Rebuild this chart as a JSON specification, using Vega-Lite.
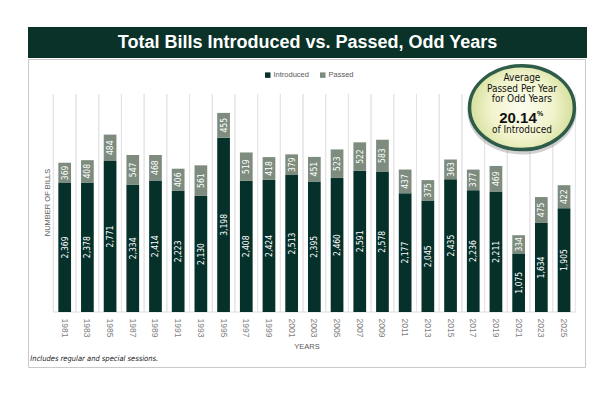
{
  "$schema": "https://vega.github.io/schema/vega-lite/v6.json",
  "padding": {"left": 27, "top": 27, "right": 0, "bottom": 0},
  "background": "white",
  "spacing": 0,
  "config": {"view": {"stroke": null}, "font": "Liberation Sans"},
  "datasets": {
    "bills": [
      {"year": "1981", "series": "Introduced", "value": 2369}, {"year": "1981", "series": "Passed", "value": 369},
      {"year": "1983", "series": "Introduced", "value": 2378}, {"year": "1983", "series": "Passed", "value": 408},
      {"year": "1985", "series": "Introduced", "value": 2771}, {"year": "1985", "series": "Passed", "value": 484},
      {"year": "1987", "series": "Introduced", "value": 2334}, {"year": "1987", "series": "Passed", "value": 547},
      {"year": "1989", "series": "Introduced", "value": 2414}, {"year": "1989", "series": "Passed", "value": 468},
      {"year": "1991", "series": "Introduced", "value": 2223}, {"year": "1991", "series": "Passed", "value": 406},
      {"year": "1993", "series": "Introduced", "value": 2130}, {"year": "1993", "series": "Passed", "value": 561},
      {"year": "1995", "series": "Introduced", "value": 3198}, {"year": "1995", "series": "Passed", "value": 455},
      {"year": "1997", "series": "Introduced", "value": 2408}, {"year": "1997", "series": "Passed", "value": 519},
      {"year": "1999", "series": "Introduced", "value": 2424}, {"year": "1999", "series": "Passed", "value": 418},
      {"year": "2001", "series": "Introduced", "value": 2513}, {"year": "2001", "series": "Passed", "value": 379},
      {"year": "2003", "series": "Introduced", "value": 2395}, {"year": "2003", "series": "Passed", "value": 451},
      {"year": "2005", "series": "Introduced", "value": 2460}, {"year": "2005", "series": "Passed", "value": 523},
      {"year": "2007", "series": "Introduced", "value": 2591}, {"year": "2007", "series": "Passed", "value": 522},
      {"year": "2009", "series": "Introduced", "value": 2578}, {"year": "2009", "series": "Passed", "value": 583},
      {"year": "2011", "series": "Introduced", "value": 2177}, {"year": "2011", "series": "Passed", "value": 437},
      {"year": "2013", "series": "Introduced", "value": 2045}, {"year": "2013", "series": "Passed", "value": 375},
      {"year": "2015", "series": "Introduced", "value": 2435}, {"year": "2015", "series": "Passed", "value": 363},
      {"year": "2017", "series": "Introduced", "value": 2236}, {"year": "2017", "series": "Passed", "value": 377},
      {"year": "2019", "series": "Introduced", "value": 2211}, {"year": "2019", "series": "Passed", "value": 469},
      {"year": "2021", "series": "Introduced", "value": 1075}, {"year": "2021", "series": "Passed", "value": 334},
      {"year": "2023", "series": "Introduced", "value": 1634}, {"year": "2023", "series": "Passed", "value": 475},
      {"year": "2025", "series": "Introduced", "value": 1905}, {"year": "2025", "series": "Passed", "value": 422}
    ]
  },
  "vconcat": [
    {
      "width": 559,
      "height": 31,
      "view": {"fill": "#0a3229", "stroke": null},
      "data": {"values": [{"t": "Total Bills Introduced vs. Passed, Odd Years"}]},
      "mark": {"type": "text", "color": "white", "fontSize": 18, "fontWeight": "bold", "font": "Liberation Sans", "baseline": "middle", "align": "center"},
      "encoding": {"text": {"field": "t", "type": "nominal"}}
    },
    {
      "width": 557,
      "height": 308,
      "view": {"stroke": "#c9c9c9", "fill": "white"},
      "data": {"name": "bills"},
      "layer": [
        {
          "mark": {"type": "rule", "color": "#e4e4e4", "strokeWidth": 1},
          "encoding": {
            "x": {"field": "year", "type": "nominal", "bandPosition": -0.3929, "title": "YEARS"},
            "y": {"datum": 0, "type": "quantitative"},
            "y2": {"datum": 4000}
          }
        },
        {
          "data": {"values": [{"k": 1}]},
          "mark": {"type": "rule", "color": "#e4e4e4", "strokeWidth": 1},
          "encoding": {
            "x": {"datum": "2025", "type": "nominal", "bandPosition": 1.3929},
            "y": {"datum": 0, "type": "quantitative"},
            "y2": {"datum": 4000}
          }
        },
        {
          "data": {"values": [{"k": 1}]},
          "mark": {"type": "rule", "color": "#dcdcdc", "strokeWidth": 1},
          "encoding": {
            "x": {"datum": "1981", "type": "nominal", "bandPosition": -0.3929},
            "x2": {"datum": "2025", "bandPosition": 1.3929},
            "y": {"datum": 0, "type": "quantitative"}
          }
        },
        {
          "mark": {"type": "bar"},
          "encoding": {
            "x": {
              "field": "year", "type": "nominal", "title": "YEARS",
              "scale": {"type": "band", "paddingInner": 0.44, "paddingOuter": 0.99, "align": 0.675},
              "axis": {"orient": "bottom", "offset": -54, "zindex": 1, "labelAngle": 90, "labelAlign": "left", "labelBaseline": "middle", "labelFontSize": 8.5, "labelColor": "#808080", "labelPadding": 5, "ticks": false, "domain": false, "grid": false, "titleFontSize": 7.5, "titleFontWeight": "normal", "titleColor": "#595959", "titlePadding": 6}
            },
            "y": {
              "field": "value", "type": "quantitative", "stack": "zero", "title": "NUMBER OF BILLS",
              "scale": {"domain": [-1009, 4642], "nice": false, "zero": false},
              "axis": {"offset": -26, "labels": false, "ticks": false, "domain": false, "grid": false, "titleFontSize": 7.5, "titleFontWeight": "normal", "titleColor": "#595959", "titlePadding": 3, "titleY": 143}
            },
            "color": {
              "field": "series", "type": "nominal",
              "scale": {"domain": ["Introduced", "Passed"], "range": ["#06302a", "#7d8c7e"]},
              "legend": {"orient": "none", "legendX": 236, "legendY": 44, "direction": "horizontal", "title": null, "symbolType": "square", "symbolSize": 30, "labelFontSize": 7.5, "labelColor": "#595959", "columnPadding": 10, "symbolStrokeWidth": 0, "labelOffset": 2}
            },
            "order": {"field": "series"}
          }
        },
        {
          "mark": {"type": "text", "angle": 270, "color": "white", "fontSize": 8.5, "font": "Liberation Sans Narrow, DejaVu Sans Condensed, sans-serif", "baseline": "middle", "align": "center"},
          "encoding": {
            "x": {"field": "year", "type": "nominal", "title": "YEARS"},
            "y": {"field": "value", "type": "quantitative", "stack": "zero", "bandPosition": 0.5, "title": "NUMBER OF BILLS"},
            "detail": {"field": "series"},
            "order": {"field": "series"},
            "text": {"field": "value", "type": "quantitative", "format": ","}
          }
        },
        {
          "data": {"values": [{"k": 1}]},
          "mark": {"type": "point", "shape": "M-1,0A1,0.8,0,1,1,1,0A1,0.8,0,1,1,-1,0Z", "size": 11900, "filled": true, "fill": "#7a7a7a", "opacity": 0.35, "strokeWidth": 0},
          "encoding": {
            "x": {"datum": "2021", "type": "nominal", "bandPosition": 0.76},
            "y": {"datum": 3690, "type": "quantitative"}
          }
        },
        {
          "data": {"values": [{"k": 1}]},
          "mark": {"type": "point", "shape": "M-1,0A1,0.8,0,1,1,1,0A1,0.8,0,1,1,-1,0Z", "size": 11000, "filled": true, "fill": {"gradient": "radial", "stops": [{"offset": 0, "color": "#fdfdf0"}, {"offset": 0.6, "color": "#f1f3cc"}, {"offset": 1, "color": "#d5df9c"}]}, "stroke": "#2e5c49", "strokeWidth": 3.5, "opacity": 1},
          "encoding": {
            "x": {"datum": "2021", "type": "nominal", "bandPosition": 0.76},
            "y": {"datum": 3749, "type": "quantitative"}
          }
        },
        {
          "data": {"values": [{"t": "Average"}]},
          "mark": {"type": "text", "fontSize": 10, "font": "Liberation Sans Narrow, DejaVu Sans Condensed, sans-serif", "color": "#111111", "baseline": "middle", "align": "center"},
          "encoding": {
            "x": {"datum": "2021", "type": "nominal", "bandPosition": 0.76},
            "y": {"datum": 4299, "type": "quantitative"},
            "text": {"field": "t", "type": "nominal"}
          }
        },
        {
          "data": {"values": [{"t": "Passed Per Year"}]},
          "mark": {"type": "text", "fontSize": 10, "font": "Liberation Sans Narrow, DejaVu Sans Condensed, sans-serif", "color": "#111111", "baseline": "middle", "align": "center"},
          "encoding": {
            "x": {"datum": "2021", "type": "nominal", "bandPosition": 0.76},
            "y": {"datum": 4086, "type": "quantitative"},
            "text": {"field": "t", "type": "nominal"}
          }
        },
        {
          "data": {"values": [{"t": "for Odd Years"}]},
          "mark": {"type": "text", "fontSize": 10, "font": "Liberation Sans Narrow, DejaVu Sans Condensed, sans-serif", "color": "#111111", "baseline": "middle", "align": "center"},
          "encoding": {
            "x": {"datum": "2021", "type": "nominal", "bandPosition": 0.76},
            "y": {"datum": 3903, "type": "quantitative"},
            "text": {"field": "t", "type": "nominal"}
          }
        },
        {
          "data": {"values": [{"t": "20.14"}]},
          "mark": {"type": "text", "fontSize": 15, "fontWeight": "bold", "font": "Liberation Sans", "color": "#111111", "baseline": "middle", "align": "center", "dx": -4},
          "encoding": {
            "x": {"datum": "2021", "type": "nominal", "bandPosition": 0.76},
            "y": {"datum": 3565, "type": "quantitative"},
            "text": {"field": "t", "type": "nominal"}
          }
        },
        {
          "data": {"values": [{"t": "%"}]},
          "mark": {"type": "text", "fontSize": 7, "fontWeight": "bold", "font": "Liberation Sans", "color": "#111111", "baseline": "middle", "align": "left", "dx": 15, "dy": -4},
          "encoding": {
            "x": {"datum": "2021", "type": "nominal", "bandPosition": 0.76},
            "y": {"datum": 3565, "type": "quantitative"},
            "text": {"field": "t", "type": "nominal"}
          }
        },
        {
          "data": {"values": [{"t": "of Introduced"}]},
          "mark": {"type": "text", "fontSize": 10, "font": "Liberation Sans Narrow, DejaVu Sans Condensed, sans-serif", "color": "#111111", "baseline": "middle", "align": "center"},
          "encoding": {
            "x": {"datum": "2021", "type": "nominal", "bandPosition": 0.76},
            "y": {"datum": 3334, "type": "quantitative"},
            "text": {"field": "t", "type": "nominal"}
          }
        },
        {
          "data": {"values": [{"t": "Includes regular and special sessions."}]},
          "mark": {"type": "text", "fontSize": 7.5, "fontStyle": "italic", "font": "Liberation Sans Narrow, DejaVu Sans Condensed, sans-serif", "color": "#1a1a1a", "baseline": "middle", "align": "left"},
          "encoding": {
            "x": {"datum": "1981", "type": "nominal", "bandPosition": -2.2},
            "y": {"datum": -862, "type": "quantitative"},
            "text": {"field": "t", "type": "nominal"}
          }
        }
      ]
    }
  ]
}
